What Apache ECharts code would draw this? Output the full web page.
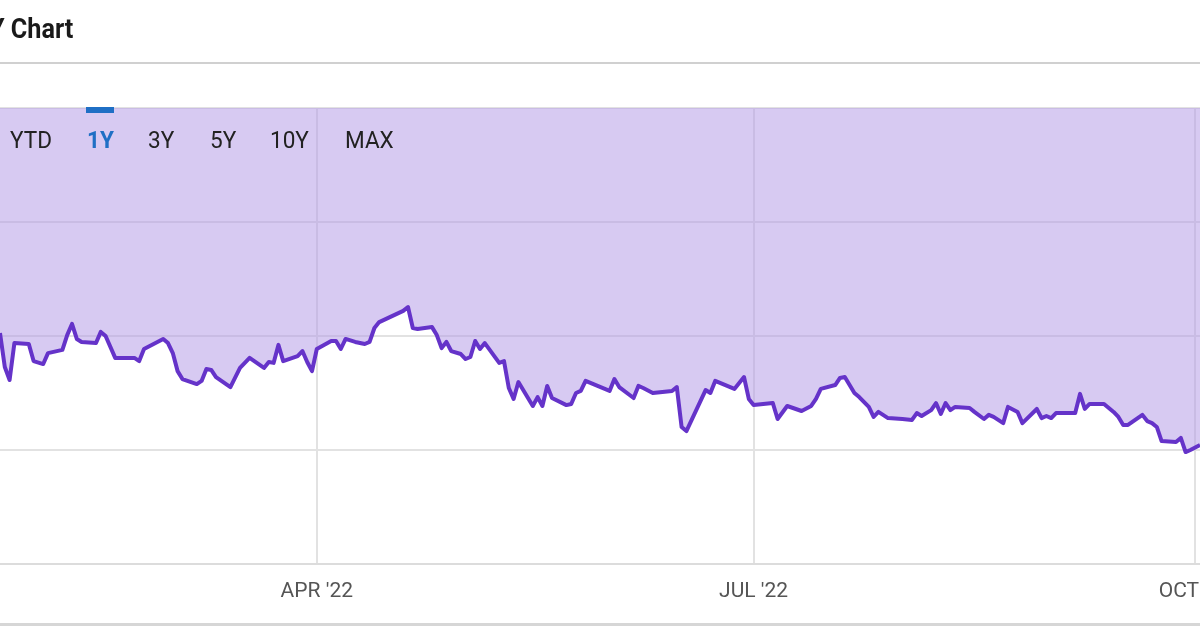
<!DOCTYPE html>
<html><head><meta charset="utf-8">
<script src="https://cdn.jsdelivr.net/npm/echarts@6/dist/echarts.min.js"></script>
<style>html,body{margin:0;padding:0;background:#fff;overflow:hidden}#c{width:1200px;height:628px}</style>
</head><body><div id="c"></div>
<script>
// ---- data ----
const dates = [
'2022-01-25','2022-01-26','2022-01-27','2022-01-28','2022-01-31','2022-02-01','2022-02-03','2022-02-04',
'2022-02-07','2022-02-08','2022-02-09','2022-02-10','2022-02-11','2022-02-14','2022-02-15','2022-02-16',
'2022-02-18','2022-02-22','2022-02-23','2022-02-24','2022-02-28','2022-03-01','2022-03-02','2022-03-03',
'2022-03-04','2022-03-07','2022-03-08','2022-03-09','2022-03-10','2022-03-11','2022-03-14','2022-03-16',
'2022-03-18','2022-03-21','2022-03-22','2022-03-23','2022-03-24','2022-03-25','2022-03-28','2022-03-29',
'2022-03-30','2022-03-31','2022-04-01','2022-04-04','2022-04-05','2022-04-06','2022-04-07','2022-04-09',
'2022-04-11','2022-04-12','2022-04-13','2022-04-14','2022-04-19','2022-04-20','2022-04-21','2022-04-22',
'2022-04-25','2022-04-26','2022-04-27','2022-04-28','2022-04-29','2022-05-01','2022-05-02','2022-05-03',
'2022-05-04','2022-05-05','2022-05-06','2022-05-09','2022-05-10','2022-05-11','2022-05-12','2022-05-13',
'2022-05-16','2022-05-17','2022-05-18','2022-05-19','2022-05-20','2022-05-23','2022-05-24','2022-05-25',
'2022-05-26','2022-05-27','2022-06-01','2022-06-02','2022-06-03','2022-06-06','2022-06-07','2022-06-08',
'2022-06-10','2022-06-14','2022-06-15','2022-06-16','2022-06-17','2022-06-21','2022-06-22','2022-06-23',
'2022-06-27','2022-06-29','2022-06-30','2022-07-01','2022-07-05','2022-07-06','2022-07-08','2022-07-11',
'2022-07-13','2022-07-14','2022-07-15','2022-07-18','2022-07-19','2022-07-20','2022-07-22','2022-07-23',
'2022-07-25','2022-07-26','2022-07-27','2022-07-29','2022-08-01','2022-08-03','2022-08-04','2022-08-05',
'2022-08-07','2022-08-08','2022-08-09','2022-08-10','2022-08-11','2022-08-12','2022-08-15','2022-08-16',
'2022-08-18','2022-08-19','2022-08-20','2022-08-22','2022-08-23','2022-08-25','2022-08-26','2022-08-29',
'2022-08-30','2022-08-31','2022-09-01','2022-09-02','2022-09-06','2022-09-07','2022-09-08','2022-09-09',
'2022-09-12','2022-09-14','2022-09-15','2022-09-16','2022-09-17','2022-09-20','2022-09-21','2022-09-22',
'2022-09-23','2022-09-24','2022-09-27','2022-09-28','2022-09-29','2022-09-30','2022-10-02'
];
const prices = [
30.13,28.64,28.07,29.69,29.65,28.90,28.77,29.25,
29.39,30.04,30.53,29.87,29.74,29.69,30.18,30.00,
29.04,29.04,28.90,29.43,29.87,29.69,29.25,28.46,
28.11,27.89,28.03,28.55,28.51,28.20,27.76,28.60,
29.04,28.60,28.86,28.82,29.61,28.90,29.12,29.34,
28.86,28.46,29.43,29.78,29.78,29.43,29.87,29.74,
29.65,29.74,30.35,30.61,31.10,31.27,30.35,30.31,
30.39,30.04,29.47,29.74,29.34,29.21,28.99,29.08,
29.78,29.43,29.69,28.82,28.90,27.72,27.24,27.98,
26.93,27.32,26.93,27.81,27.28,26.97,27.02,27.50,
27.59,28.03,27.59,28.11,27.76,27.28,27.81,27.72,
27.50,27.59,27.76,26.01,25.83,27.63,27.50,28.03,
27.68,28.20,27.24,26.97,27.06,26.36,26.93,26.71,
26.93,27.24,27.68,27.85,28.16,28.20,27.50,27.32,
26.89,26.45,26.67,26.40,26.36,26.32,26.62,26.49,
26.75,27.06,26.58,27.06,26.75,26.89,26.84,26.67,
26.36,26.54,26.45,26.18,26.89,26.67,26.18,26.80,
26.40,26.49,26.40,26.62,26.62,27.46,26.80,27.02,
27.02,26.67,26.45,26.10,26.10,26.54,26.27,26.18,
26.01,25.39,25.35,25.53,24.91,25.00,25.22
];
const tickDates = ['2022-04-01','2022-07-01','2022-10-01'];
const tickLabels = ["APR '22","JUL '22","OCT '22"];
const rangeButtons = ['YTD','1Y','3Y','5Y','10Y','MAX'];
const activeRange = '1Y';
const titleText = 'Y Chart';
const yMin = 20, yMax = 40, yStep = 5;
const xStart = '2022-01-25', xEnd = '2022-10-02';

// ---- helpers ----
function ts(s){const p=s.split('-').map(Number);return new Date(p[0],p[1]-1,p[2]).getTime();}
const seriesData = dates.map((d,i)=>[ts(d),prices[i]]);
const tickTs = tickDates.map(ts);

const FONT = "Roboto,sans-serif";
const btnX = [10,87,148,210,270,345];

const graphics = [
  {type:'text', x:-11, y:31, scaleX:0.9, style:{text:titleText, font:"bold 28px "+FONT, fill:'#1a1a1a', textVerticalAlign:'middle'}},
  {type:'rect', shape:{x:0,y:62,width:1200,height:2}, style:{fill:'#d0d0d0'}},
  {type:'rect', shape:{x:0,y:623,width:1200,height:3}, style:{fill:'#d6d6d6'}},
];
rangeButtons.forEach((b,i)=>{
  const act = b===activeRange;
  graphics.push({type:'text', x:btnX[i], y:142, scaleX:0.94, z:10, style:{text:b, font:(act?'bold ':'')+"24px "+FONT, fill:act?'#1f6fc5':'#222', textVerticalAlign:'middle'}});
  if(act) graphics.push({type:'rect', z:10, shape:{x:btnX[i]-1,y:107,width:28,height:6}, style:{fill:'#1f6fc5'}});
});

const chart = echarts.init(document.getElementById('c'), null, {renderer:'canvas'});
chart.setOption({
  animation:false,
  backgroundColor:'#fff',
  grid:{left:0,right:0,top:108,bottom:64,containLabel:false,outerBoundsMode:'none'},
  xAxis:{
    type:'value', min:ts(xStart), max:ts(xEnd),
    axisLine:{show:true, lineStyle:{color:'#dcdcdc', width:2}},
    axisTick:{show:false, customValues:tickTs},
    axisLabel:{customValues:tickTs, color:'#555', fontSize:21, fontFamily:FONT, margin:17,
      formatter:(v)=>{const i=tickTs.indexOf(v);return i>=0?tickLabels[i]:'';}},
    splitLine:{show:true, lineStyle:{color:'#e2e2e2', width:2}}
  },
  yAxis:{
    type:'value', min:yMin, max:yMax, interval:yStep,
    axisLine:{show:false}, axisTick:{show:false}, axisLabel:{show:false},
    splitLine:{show:true, lineStyle:{color:'#e2e2e2', width:2}}
  },
  series:[{
    type:'line', data:seriesData, showSymbol:false, symbol:'none',
    lineStyle:{color:'#6533c9', width:4, join:'round'},
    areaStyle:{origin:'end', color:'rgba(176,150,230,0.5)', opacity:1},
    z:3
  }],
  graphic:graphics
});
</script></body></html>
